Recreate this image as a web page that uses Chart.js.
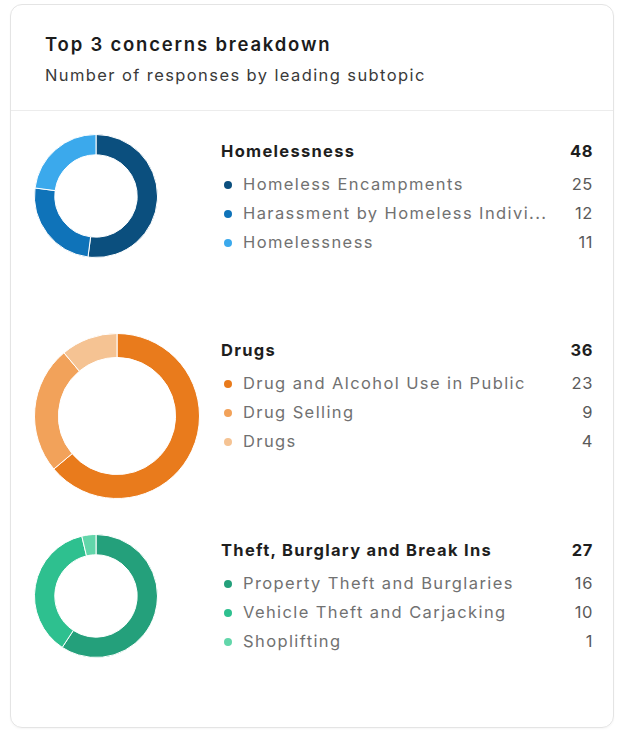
<!DOCTYPE html>
<html>
<head>
<meta charset="utf-8">
<script src="https://cdn.jsdelivr.net/npm/chart.js@4.4.1/dist/chart.umd.min.js"></script>
<style>
  html, body { margin: 0; padding: 0; background: #fff; }
  body { width: 626px; height: 732px; position: relative; font-family: Inter, "Noto Sans", sans-serif; overflow: hidden; }
  .card { position: absolute; left: 10px; top: 4px; width: 602px; height: 722px; border: 1px solid #e4e4e4; border-radius: 12px; box-shadow: 0 1px 2px rgba(0,0,0,0.04); }
  .head { position: absolute; left: 0; top: 0; right: 0; height: 105px; border-bottom: 1px solid #ececec; }
  .title { position: absolute; left: 34px; top: 28px; font-size: 18.5px; font-weight: 600; color: #1c1c1c; letter-spacing: 1.8px; white-space: nowrap; }
  .sub { position: absolute; left: 34px; top: 60px; font-size: 16.5px; color: #3a3a3a; letter-spacing: 1.4px; white-space: nowrap; }
  .donut { position: absolute; }
  .group { position: absolute; left: 221px; width: 372px; }
  .gtitle { display: flex; justify-content: space-between; height: 28px; line-height: 28px; font-size: 16.5px; font-weight: 700; color: #1e1e1e; margin-bottom: 5px; letter-spacing: 1.3px; }
  .gtitle span:last-child { letter-spacing: 0.6px; }
  .row { display: flex; align-items: center; height: 29px; line-height: 29px; font-size: 16.5px; color: #717171; }
  .dot { width: 8px; height: 8px; border-radius: 50%; margin: 0 11px 0 3px; flex: none; }
  .lbl { white-space: nowrap; letter-spacing: 1.4px; }
  .val { margin-left: auto; color: #5a5a5a; letter-spacing: 0.6px; }
</style>
</head>
<body>
<div class="card">
  <div class="head">
    <div class="title">Top 3 concerns breakdown</div>
    <div class="sub">Number of responses by leading subtopic</div>
  </div>
</div>

<script>
// concern groups
const groupNames = ["Homelessness", "Drugs", "Theft, Burglary and Break Ins"];
const groupTotals = [48, 36, 27];

// subtopics per group (label shortened as shown in the card)
const homelessLabels = ["Homeless Encampments", "Harassment by Homeless Indivi...", "Homelessness"];
const homelessValues = [25, 12, 11];
const homelessColors = ["#0b4f7e", "#0f73b9", "#3ba9ec"];

const drugLabels = ["Drug and Alcohol Use in Public", "Drug Selling", "Drugs"];
const drugValues = [23, 9, 4];
const drugColors = ["#e97b1c", "#f2a25a", "#f5c393"];

const theftLabels = ["Property Theft and Burglaries", "Vehicle Theft and Carjacking", "Shoplifting"];
const theftValues = [16, 10, 1];
const theftColors = ["#24a07b", "#2ec08f", "#62d6aa"];

// layout of each block (donut box + legend block top)
const blocks = [
  { labels: homelessLabels, values: homelessValues, colors: homelessColors, x: 34, y: 134, size: 124, cutout: "67%", top: 137 },
  { labels: drugLabels, values: drugValues, colors: drugColors, x: 34, y: 333, size: 166, cutout: "71%", top: 336 },
  { labels: theftLabels, values: theftValues, colors: theftColors, x: 34, y: 534, size: 124, cutout: "67%", top: 536 },
];

blocks.forEach((b, i) => {
  const c = document.createElement("canvas");
  c.className = "donut";
  c.width = b.size;
  c.height = b.size;
  c.style.left = b.x + "px";
  c.style.top = b.y + "px";
  document.body.appendChild(c);

  new Chart(c.getContext("2d"), {
    type: "doughnut",
    data: {
      labels: b.labels,
      datasets: [{ data: b.values, backgroundColor: b.colors, borderColor: "#fff", borderWidth: 1 }],
    },
    options: {
      responsive: false,
      animation: false,
      events: [],
      cutout: b.cutout,
      layout: { padding: 0 },
      plugins: { legend: { display: false }, tooltip: { enabled: false } },
    },
  });

  // html legend
  const g = document.createElement("div");
  g.className = "group";
  g.style.top = b.top + "px";
  let html = `<div class="gtitle"><span>${groupNames[i]}</span><span>${groupTotals[i]}</span></div>`;
  b.labels.forEach((l, j) => {
    html += `<div class="row"><span class="dot" style="background:${b.colors[j]}"></span><span class="lbl">${l}</span><span class="val">${b.values[j]}</span></div>`;
  });
  g.innerHTML = html;
  document.body.appendChild(g);
});
</script>
</body>
</html>
